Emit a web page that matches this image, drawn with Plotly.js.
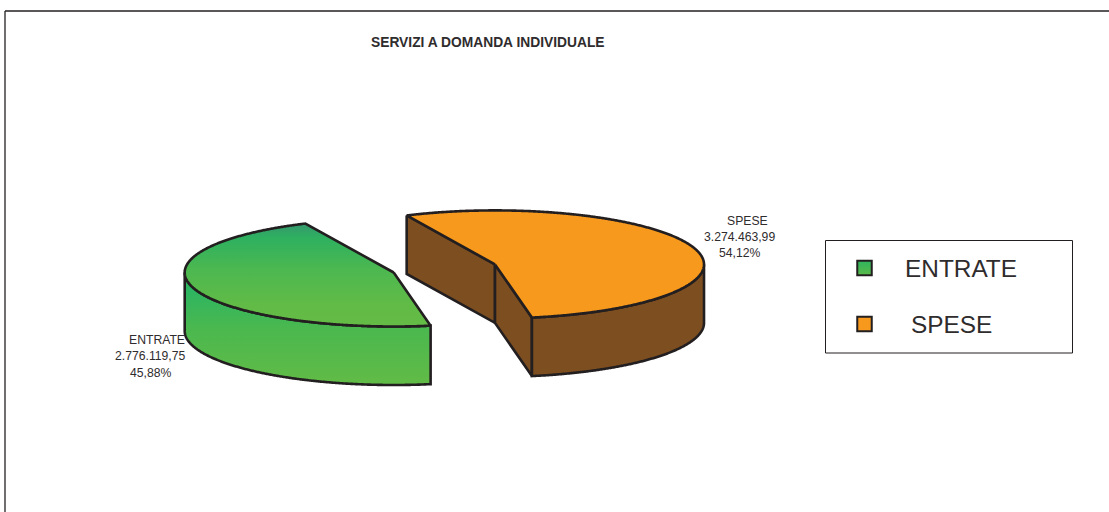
<!DOCTYPE html>
<html>
<head>
<meta charset="utf-8">
<script src="https://cdn.plot.ly/plotly-3.0.1.min.js"></script>
<style>html,body{margin:0;padding:0;background:#fff}#chart{width:1109px;height:512px}</style>
</head>
<body>
<div id="chart"></div>
<script>
const categories = ["ENTRATE", "SPESE"];
const amounts = [2776119.75, 3274463.99];
const amountLabels = ["2.776.119,75", "3.274.463,99"];
const percentLabels = ["45,88%", "54,12%"];
const chartTitle = "SERVIZI A DOMANDA INDIVIDUALE";

const INK = "#231f20";
const TEXT = "#2f2c2d";
const ORANGE = "#f7991d";
const BROWN = "#7d4e20";
const RX = 209, RY = 54, DEPTH = 58.5, START_DEG = 115;
const CENTERS = {ENTRATE: [393.7, 272.5], SPESE: [495, 264.4]};

const total = amounts[0] + amounts[1];
const spesaSweep = amounts[1] / total * 360;
const spesaEnd = START_DEG - spesaSweep;          // front cut between the slices
const entrataEnd = spesaEnd - amounts[0] / total * 360; // back cut, going clockwise

function arc(c, from, to, dy) {
  const n = Math.max(2, Math.round(Math.abs(to - from) * 3));
  const xs = [], ys = [];
  for (let i = 0; i <= n; i++) {
    const t = (from + (to - from) * i / n) * Math.PI / 180;
    xs.push(c[0] + RX * Math.cos(t));
    ys.push(c[1] - RY * Math.sin(t) + (dy || 0));
  }
  return [xs, ys];
}
function poly(xs, ys, style) {
  return Object.assign({
    x: xs, y: ys, type: "scatter", mode: "lines", fill: "toself",
    line: {color: INK, width: 2.6, shape: "linear", simplify: false},
    hoverinfo: "skip", showlegend: false
  }, style);
}
function solid(col) { return {fillcolor: col}; }
function grad(stops, a, b) {
  return {fillgradient: {type: "vertical", colorscale: stops, start: a, stop: b}};
}
function wall(p, q) {
  return [[p[0], q[0], q[0], p[0], p[0]], [p[1], q[1], q[1] + DEPTH, p[1] + DEPTH, p[1]]];
}
function rim(c, from, to) {
  const a = arc(c, from, to), b = arc(c, to, from, DEPTH);
  return [a[0].concat(b[0], a[0][0]), a[1].concat(b[1], a[1][0])];
}
function wedge(c, from, to) {
  const a = arc(c, from, to);
  return [[c[0]].concat(a[0], c[0]), [c[1]].concat(a[1], c[1])];
}

const cS = CENTERS.SPESE, cE = CENTERS.ENTRATE;
const sArc = arc(cS, START_DEG, spesaEnd);
const sBack = [sArc[0][0], sArc[1][0]];
const sFront = [sArc[0][sArc[0].length - 1], sArc[1][sArc[1].length - 1]];

const wallA = wall(sBack, cS), wallB = wall(cS, sFront);
const rimS = rim(cS, 0, spesaEnd);
const topS = wedge(cS, START_DEG, spesaEnd);
const rimE = rim(cE, 180, 360 + spesaEnd);
const topE = wedge(cE, spesaEnd + 360, entrataEnd + 360);

const topStops = [[0, "#37966f"], [0.14, "#2eb060"], [0.45, "#4cb850"], [0.8, "#62bb46"], [1, "#64bc46"]];
const rimStops = [[0, "#2db561"], [0.4, "#4ab84f"], [1, "#62bb46"]];

const traces = [
  poly(wallA[0], wallA[1], solid(BROWN)),
  poly(wallB[0], wallB[1], solid(BROWN)),
  poly(rimS[0], rimS[1], solid(BROWN)),
  poly(topS[0], topS[1], solid(ORANGE)),
  poly(rimE[0], rimE[1], grad(rimStops, 290, 385)),
  poly(topE[0], topE[1], grad(topStops, 223, 327)),
  {
    x: [864.5, 864.5], y: [268, 324], type: "scatter", mode: "markers",
    hoverinfo: "skip", showlegend: false,
    marker: {symbol: "square", size: 14.5,
      color: ["#2fb55f", ORANGE],
      gradient: {type: "vertical", color: ["#5ab948", ORANGE]},
      line: {color: INK, width: 2}}
  }
];

function note(text, x, y, size, extra) {
  return Object.assign({
    text: text, x: x, y: y, xref: "x", yref: "y", showarrow: false,
    xanchor: "center", yanchor: "middle",
    font: {family: "Liberation Sans, Arial, sans-serif", size: size, color: TEXT}
  }, extra || {});
}

const annotations = [
  note("<b>" + chartTitle + "</b>", 488, 42, 13.8),
  note(categories[0], 157, 340, 12.2),
  note(amountLabels[0], 150, 356, 12.2),
  note(percentLabels[0], 150, 373, 12.2),
  note(categories[1], 747, 221, 12.2),
  note(amountLabels[1], 739, 237, 12.2),
  note(percentLabels[1], 739, 253, 12.2),
  note(categories[0], 961, 268, 24.4),
  note(categories[1], 951, 324, 24.4)
];

const shapes = [
  {type: "line", xref: "x", yref: "y", x0: 5, y0: 512, x1: 5, y1: 11, line: {color: INK, width: 1.3}},
  {type: "line", xref: "x", yref: "y", x0: 5, y0: 11, x1: 1109, y1: 11, line: {color: INK, width: 1.3}},
  {type: "rect", xref: "x", yref: "y", x0: 825.5, y0: 240.5, x1: 1072.5, y1: 353, line: {color: INK, width: 1}, fillcolor: "rgba(0,0,0,0)", layer: "below"}
];

const layout = {
  width: 1109, height: 512,
  margin: {l: 0, r: 0, t: 0, b: 0},
  paper_bgcolor: "#fff", plot_bgcolor: "#fff",
  showlegend: false,
  xaxis: {range: [0, 1109], visible: false, fixedrange: true},
  yaxis: {range: [512, 0], visible: false, fixedrange: true},
  annotations: annotations,
  shapes: shapes
};
Plotly.newPlot("chart", traces, layout, {displayModeBar: false, staticPlot: true});
</script>
</body>
</html>
